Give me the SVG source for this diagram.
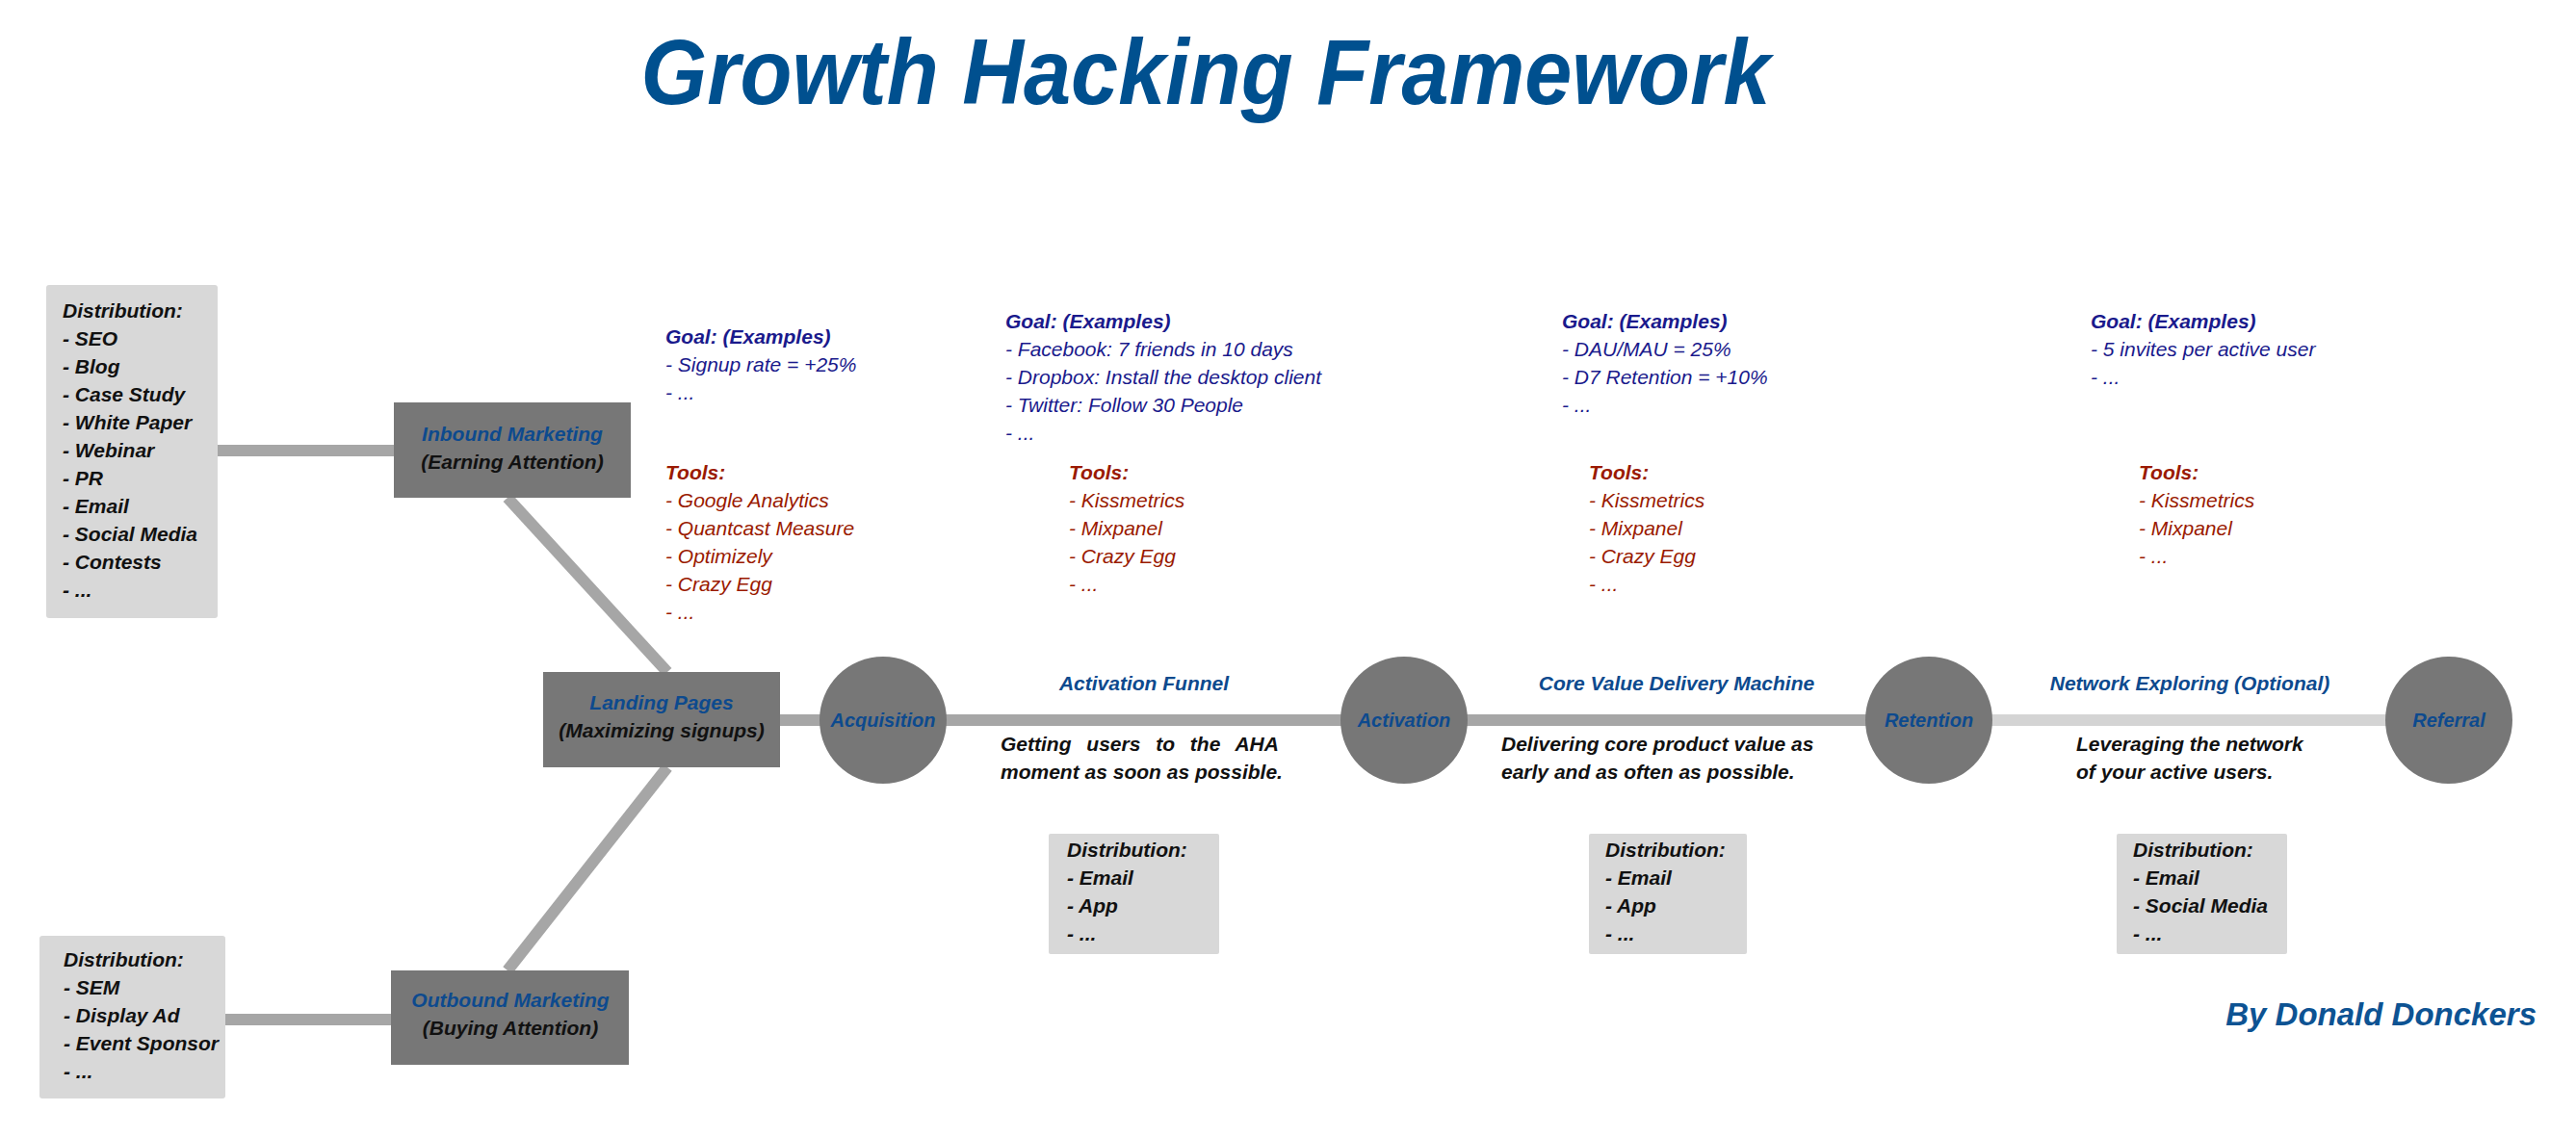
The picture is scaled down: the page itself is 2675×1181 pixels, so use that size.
<svg xmlns="http://www.w3.org/2000/svg" width="2675" height="1181" viewBox="0 0 2675 1181">
<style>
text{font-family:"Liberation Sans",Arial,sans-serif;font-style:italic}
.t{font-size:21px;font-weight:bold;fill:#111}
.g{font-size:21px;fill:#1a1a8c}
.gh{font-size:21px;font-weight:bold;fill:#1a1a8c}
.r{font-size:21px;fill:#9a1a00}
.rh{font-size:21px;font-weight:bold;fill:#9a1a00}
.nb{fill:#777}
.nt{font-size:21px;font-weight:bold;fill:#0d4a8e;text-anchor:middle}
.ns{font-size:21px;font-weight:bold;fill:#111;text-anchor:middle}
.lb{fill:#d8d8d8}
.c{stroke:#a6a6a6;stroke-width:12;fill:none}
.h{font-size:21px;font-weight:bold;fill:#0d4a8e;text-anchor:middle}
.hc{font-size:20px;font-weight:bold;fill:#0d4a8e;text-anchor:middle}
</style>
<rect width="2675" height="1181" fill="#fff"/>
<text x="1252" y="108" text-anchor="middle" font-size="96" font-weight="bold" fill="#00508f" textLength="1173" lengthAdjust="spacingAndGlyphs">Growth Hacking Framework</text>
<g id="connectors">
<line class="c" x1="226" y1="468" x2="409" y2="468"/>
<line class="c" x1="234" y1="1059" x2="406" y2="1059"/>
<line class="c" x1="527" y1="517" x2="693" y2="698"/>
<line class="c" x1="693" y1="797" x2="527" y2="1008"/>
<line class="c" x1="810" y1="748" x2="2003" y2="748"/>
<line x1="2003" y1="748" x2="2543" y2="748" stroke="#d4d4d4" stroke-width="12"/>
</g>
<g id="dist-inbound"><rect class="lb" x="48" y="296" width="178" height="346" rx="3"/>
<text class="t" x="65" y="330">Distribution:</text><text class="t" x="65" y="359">- SEO</text><text class="t" x="65" y="388">- Blog</text><text class="t" x="65" y="417">- Case Study</text><text class="t" x="65" y="446">- White Paper</text><text class="t" x="65" y="475">- Webinar</text><text class="t" x="65" y="504">- PR</text><text class="t" x="65" y="533">- Email</text><text class="t" x="65" y="562">- Social Media</text><text class="t" x="65" y="591">- Contests</text><text class="t" x="65" y="620">- ...</text></g>
<g id="dist-outbound"><rect class="lb" x="41" y="972" width="193" height="169" rx="3"/>
<text class="t" x="66" y="1004">Distribution:</text><text class="t" x="66" y="1033">- SEM</text><text class="t" x="66" y="1062">- Display Ad</text><text class="t" x="66" y="1091">- Event Sponsor</text><text class="t" x="66" y="1120">- ...</text></g>
<g id="inbound"><rect class="nb" x="409" y="418" width="246" height="99"/><text class="nt" x="532" y="458">Inbound Marketing</text><text class="ns" x="532" y="487">(Earning Attention)</text></g>
<g id="landing"><rect class="nb" x="564" y="698" width="246" height="99"/><text class="nt" x="687" y="737">Landing Pages</text><text class="ns" x="687" y="766">(Maximizing signups)</text></g>
<g id="outbound"><rect class="nb" x="406" y="1008" width="247" height="98"/><text class="nt" x="530" y="1046">Outbound Marketing</text><text class="ns" x="530" y="1075">(Buying Attention)</text></g>
<g id="acquisition"><circle class="nb" cx="917" cy="748" r="66"/><text class="hc" x="917" y="755">Acquisition</text></g>
<g id="activation"><circle class="nb" cx="1458" cy="748" r="66"/><text class="hc" x="1458" y="755">Activation</text></g>
<g id="retention"><circle class="nb" cx="2003" cy="748" r="66"/><text class="hc" x="2003" y="755">Retention</text></g>
<g id="referral"><circle class="nb" cx="2543" cy="748" r="66"/><text class="hc" x="2543" y="755">Referral</text></g>
<g id="stage1"><text class="h" x="1188" y="717">Activation Funnel</text>
<text class="t" x="1039" y="780" word-spacing="10">Getting users to the AHA</text><text class="t" x="1039" y="809">moment as soon as possible.</text></g>
<g id="stage2"><text class="h" x="1741" y="717">Core Value Delivery Machine</text>
<text class="t" x="1559" y="780">Delivering core product value as</text><text class="t" x="1559" y="809">early and as often as possible.</text></g>
<g id="stage3"><text class="h" x="2274" y="717">Network Exploring (Optional)</text>
<text class="t" x="2156" y="780">Leveraging the network</text><text class="t" x="2156" y="809">of your  active users.</text></g>
<g id="dist1"><rect class="lb" x="1089" y="866" width="177" height="125" rx="2"/><text class="t" x="1108" y="890">Distribution:</text><text class="t" x="1108" y="919">- Email</text><text class="t" x="1108" y="948">- App</text><text class="t" x="1108" y="977">- ...</text></g>
<g id="dist2"><rect class="lb" x="1650" y="866" width="164" height="125" rx="2"/><text class="t" x="1667" y="890">Distribution:</text><text class="t" x="1667" y="919">- Email</text><text class="t" x="1667" y="948">- App</text><text class="t" x="1667" y="977">- ...</text></g>
<g id="dist3"><rect class="lb" x="2198" y="866" width="177" height="125" rx="2"/><text class="t" x="2215" y="890">Distribution:</text><text class="t" x="2215" y="919">- Email</text><text class="t" x="2215" y="948">- Social Media</text><text class="t" x="2215" y="977">- ...</text></g>
<g id="goals1"><text class="gh" x="691" y="357">Goal:  (Examples)</text><text class="g" x="691" y="386">- Signup rate = +25%</text><text class="g" x="691" y="415">-  ...</text>
<text class="rh" x="691" y="498">Tools:</text><text class="r" x="691" y="527">- Google Analytics</text><text class="r" x="691" y="556">- Quantcast Measure</text><text class="r" x="691" y="585">- Optimizely</text><text class="r" x="691" y="614">- Crazy Egg</text><text class="r" x="691" y="643">- ...</text></g>
<g id="goals2"><text class="gh" x="1044" y="341">Goal:  (Examples)</text><text class="g" x="1044" y="370">- Facebook: 7 friends in 10 days</text><text class="g" x="1044" y="399">- Dropbox: Install the desktop client</text><text class="g" x="1044" y="428">- Twitter: Follow 30 People</text><text class="g" x="1044" y="457">-  ...</text>
<text class="rh" x="1110" y="498">Tools:</text><text class="r" x="1110" y="527">- Kissmetrics</text><text class="r" x="1110" y="556">- Mixpanel</text><text class="r" x="1110" y="585">- Crazy Egg</text><text class="r" x="1110" y="614">- ...</text></g>
<g id="goals3"><text class="gh" x="1622" y="341">Goal:  (Examples)</text><text class="g" x="1622" y="370">- DAU/MAU = 25%</text><text class="g" x="1622" y="399">- D7 Retention = +10%</text><text class="g" x="1622" y="428">-  ...</text>
<text class="rh" x="1650" y="498">Tools:</text><text class="r" x="1650" y="527">- Kissmetrics</text><text class="r" x="1650" y="556">- Mixpanel</text><text class="r" x="1650" y="585">- Crazy Egg</text><text class="r" x="1650" y="614">- ...</text></g>
<g id="goals4"><text class="gh" x="2171" y="341">Goal:  (Examples)</text><text class="g" x="2171" y="370">- 5 invites per active user</text><text class="g" x="2171" y="399">-  ...</text>
<text class="rh" x="2221" y="498">Tools:</text><text class="r" x="2221" y="527">- Kissmetrics</text><text class="r" x="2221" y="556">- Mixpanel</text><text class="r" x="2221" y="585">- ...</text></g>
<text x="2634" y="1065" text-anchor="end" font-size="33" font-weight="bold" fill="#0d5393">By Donald Donckers</text>
</svg>
